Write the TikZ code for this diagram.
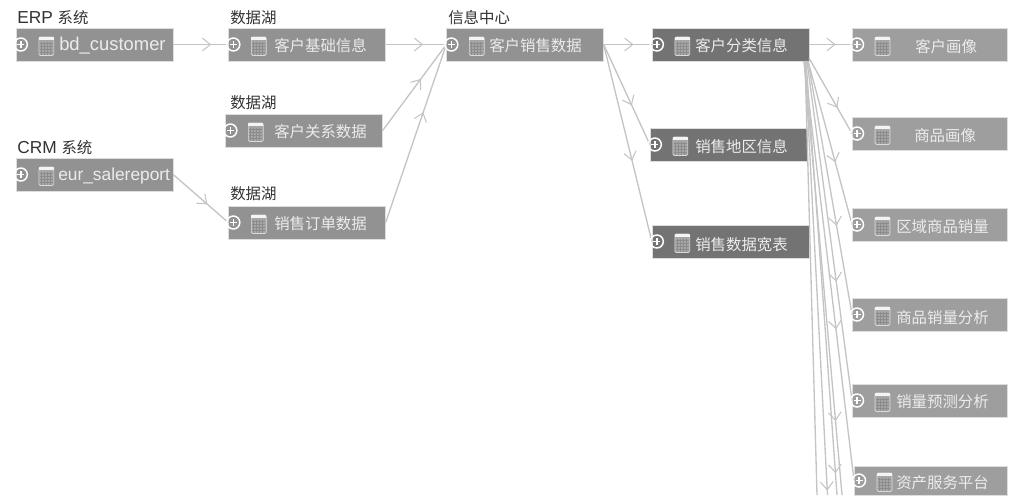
\documentclass[tikz,border=0pt]{standalone}
\usepackage{fontspec}
\setmainfont{Liberation Sans}
\newfontfamily\cjkfont[Scale=0.89]{Noto Sans CJK SC}
\usetikzlibrary{arrows.meta, decorations.markings}
\definecolor{midbox}{RGB}{146, 146, 146}
\definecolor{darkbox}{RGB}{115, 115, 115}
\definecolor{lightbox}{RGB}{158, 158, 158}
\definecolor{edgeline}{RGB}{222, 222, 222}
\definecolor{linkline}{RGB}{196, 196, 196}
\definecolor{boxtext}{RGB}{236, 236, 236}
\definecolor{captext}{RGB}{50, 50, 50}
\definecolor{iconfill}{RGB}{166, 166, 166}
\definecolor{icongrid}{RGB}{140, 140, 140}
\tikzset{
  tabbox/.style={draw=edgeline, fill=#1, line width=0.5pt, inner sep=0,
    minimum width=117.5pt, minimum height=24.5pt},
  tabtext/.style={anchor=west, inner sep=0, text=boxtext, font=\fontsize{13}{15}\selectfont},
  caption/.style={anchor=west, inner sep=0, text=captext, font=\fontsize{13}{15}\selectfont},
  link/.style={draw=linkline, line width=1pt, postaction={decorate},
    decoration={markings, mark=at position #1 with
      {\arrow[linkline, line width=0.8pt]{Straight Barb[length=6pt, width=9.5pt]}}}},
  tabmark/.pic={
    \draw[white, line width=1.1pt] (5, 0) circle (6.5);
    \draw[white, line width=1.1pt] (1.5, 0) -- (8.5, 0) (5, -3.5) -- (5, 3.5);
    \draw[rounded corners=1, draw=boxtext!80!midbox, fill=iconfill, line width=0.5pt]
      (23, -7.5) rectangle (38, 11);
    \fill[white!90!midbox] (23, -7.5) rectangle (38, -4.5);
    \draw[icongrid, line width=0.25pt]
      (25, -3) -- (25, 10) (28, -3) -- (28, 10) (31, -3) -- (31, 10) (34, -3) -- (34, 10)
      (24, -1) -- (37, -1) (24, 2) -- (37, 2) (24, 5) -- (37, 5) (24, 8) -- (37, 8);
  }
}

\begin{document}
\begin{tikzpicture}[x=0.75pt, y=-0.75pt]
  \useasboundingbox (0, 0) rectangle (1024, 501);

  % first two columns
  \node[caption] (erpcap) at (17, 18) {ERP {\cjkfont 系统}};
  \node[tabbox=midbox] (bdcust) at (94.5, 44.5) {};
  \node[tabtext, font=\fontsize{13.8}{15}\selectfont] (bdcusttext) at (59, 45.5) {bd\_customer};

  \node[caption] (crmcap) at (17, 148) {CRM {\cjkfont 系统}};
  \node[tabbox=midbox] (eurrep) at (94.5, 174.5) {};
  \node[tabtext] (eurreptext) at (58, 176.5) {eur\_salereport};

  \node[caption] (lakecapa) at (230, 18) {\cjkfont 数据湖};
  \node[tabbox=midbox] (custbase) at (307, 44.5) {};
  \node[tabtext] (custbasetext) at (274, 45.5) {\cjkfont 客户基础信息};

  \node[caption] (lakecapb) at (230, 103) {\cjkfont 数据湖};
  \node[tabbox=midbox] (custrel) at (304, 130.5) {};
  \node[tabtext] (custreltext) at (274, 132) {\cjkfont 客户关系数据};

  \node[caption] (lakecapc) at (230, 194) {\cjkfont 数据湖};
  \node[tabbox=midbox] (salesorder) at (307, 222.5) {};
  \node[tabtext] (salesordertext) at (274, 224) {\cjkfont 销售订单数据};

  % middle columns
  \node[caption] (infocap) at (448, 18) {\cjkfont 信息中心};
  \node[tabbox=midbox] (custsales) at (525, 44.5) {};
  \node[tabtext] (custsalestext) at (489, 45.5) {\cjkfont 客户销售数据};

  \node[tabbox=darkbox] (custclass) at (730.5, 44.5) {};
  \node[tabtext] (custclasstext) at (695, 45.5) {\cjkfont 客户分类信息};

  \node[tabbox=darkbox] (salesarea) at (728.5, 144.5) {};
  \node[tabtext] (salesareatext) at (695, 147) {\cjkfont 销售地区信息};

  \node[tabbox=darkbox] (saleswide) at (730.5, 241.5) {};
  \node[tabtext] (saleswidetext) at (695, 245) {\cjkfont 销售数据宽表};

  % right column
  \node[tabbox=lightbox, minimum width=116.5pt] (custview) at (930, 44.5) {};
  \node[tabtext] (custviewtext) at (915, 47) {\cjkfont 客户画像};

  \node[tabbox=lightbox, minimum width=116.5pt] (prodview) at (930, 133.5) {};
  \node[tabtext] (prodviewtext) at (914, 136) {\cjkfont 商品画像};

  \node[tabbox=lightbox, minimum width=116.5pt] (areaqty) at (930, 224.5) {};
  \node[tabtext] (areaqtytext) at (896, 227) {\cjkfont 区域商品销量};

  \node[tabbox=lightbox, minimum width=116.5pt] (prodqty) at (930, 314.5) {};
  \node[tabtext] (prodqtytext) at (896, 317.5) {\cjkfont 商品销量分析};

  \node[tabbox=lightbox, minimum width=116.5pt] (forecast) at (930, 400.5) {};
  \node[tabtext] (forecasttext) at (896, 402) {\cjkfont 销量预测分析};

  \node[tabbox=lightbox, minimum width=115pt, minimum height=21.5pt] (assets) at (931, 480.5) {};
  \node[tabtext] (assetstext) at (896, 483) {\cjkfont 资产服务平台};

  % ends of the fan
  \coordinate (fana) at (804, 61);
  \coordinate (fanb) at (805, 61);
  \coordinate (fanc) at (806, 61);
  \coordinate (fand) at (807, 61);
  \coordinate (fane) at (808, 61);
  \coordinate (fanf) at (809, 58);
  \coordinate (offa) at (817, 495);
  \coordinate (offb) at (827.5, 495);
  \coordinate (offc) at (837, 495);
  \coordinate (offd) at (842, 495);

  \draw[link=0.69] (bdcust.east) -- (custbase.west);
  \draw[link=0.62] (eurrep.east) -- (salesorder.west);
  \draw[link=0.62] (custbase.east) -- (custsales.west);
  \draw[link=0.60] (custrel.east) -- (custsales.west);
  \draw[link=0.62] (salesorder.east) -- (custsales.west);
  \draw[link=0.62] (custsales.east) -- (custclass.west);
  \draw[link=0.61] (custsales.east) -- (salesarea.west);
  \draw[link=0.59] (custsales.east) -- (saleswide.west);
  \draw[link=0.62] (custclass.east) -- (custview.west);
  \draw[link=0.66] (fanf) -- (prodview.west);
  \draw[link=0.62] (fane) -- (areaqty.west);
  \draw[link=0.65] (fane) -- (prodqty.west);
  \draw[link=0.65] (fand) -- (forecast.west);
  \draw[link=0.64] (fana) -- (assets.west);
  \draw[link=0.99] (fanb) -- (offb);
  \draw[link=0.83] (fana) -- (offd);
  \draw[link=0.95] (fanc) -- (offc);
  \draw[linkline, line width=1pt] (fanb) -- (offa);

  \pic at (bdcust.west) {tabmark};
  \pic at (eurrep.west) {tabmark};
  \pic at (custbase.west) {tabmark};
  \pic at (custrel.west) {tabmark};
  \pic at (salesorder.west) {tabmark};
  \pic at (custsales.west) {tabmark};
  \pic at (custclass.west) {tabmark};
  \pic at (salesarea.west) {tabmark};
  \pic at (saleswide.west) {tabmark};
  \pic at (custview.west) {tabmark};
  \pic at (prodview.west) {tabmark};
  \pic at (areaqty.west) {tabmark};
  \pic at (prodqty.west) {tabmark};
  \pic at (forecast.west) {tabmark};
  \pic at (assets.west) {tabmark};
\end{tikzpicture}
\end{document}
